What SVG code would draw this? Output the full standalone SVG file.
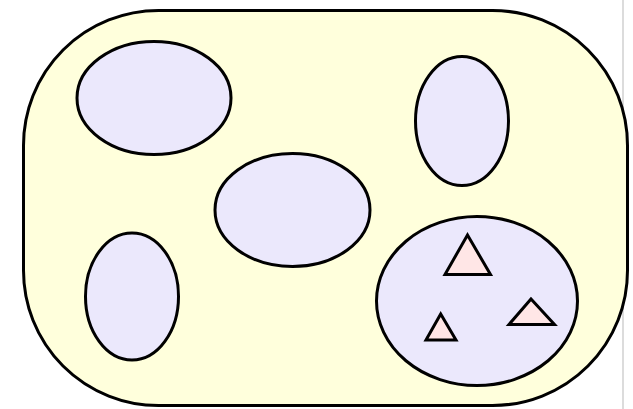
<svg xmlns="http://www.w3.org/2000/svg" width="633" height="409" viewBox="0 0 633 409">
<style>
.box{fill:#ffffdc;stroke:#000;stroke-width:3}
.ell{fill:#ebe8fc;stroke:#000;stroke-width:3}
.tri{fill:#ffe6e6;stroke:#000;stroke-width:3}
</style>
<rect x="0" y="0" width="633" height="409" fill="#ffffff"/>
<line x1="623" y1="0" x2="623" y2="409" stroke="#dcdcdc" stroke-width="2"/>
<g id="container">
<rect class="box" x="23.5" y="10.5" width="604" height="395" rx="135" ry="135"/>
</g>
<g id="n1"><ellipse class="ell" cx="154" cy="98" rx="77" ry="56.5"/></g>
<g id="n2"><ellipse class="ell" cx="462" cy="121" rx="46.5" ry="64.5"/></g>
<g id="n3"><ellipse class="ell" cx="292.5" cy="210" rx="77.5" ry="56.5"/></g>
<g id="n4"><ellipse class="ell" cx="132" cy="296.5" rx="46.5" ry="63.5"/></g>
<g id="n5">
<ellipse class="ell" cx="477" cy="301" rx="100.5" ry="84.5"/>
<polygon class="tri" points="467.5,235 445,274.5 490.5,274.5"/>
<polygon class="tri" points="531,299 509,324.5 554.5,324.5"/>
<polygon class="tri" points="440.7,314 426,340 456,340"/>
</g>
<g id="connectors"></g>
</svg>
